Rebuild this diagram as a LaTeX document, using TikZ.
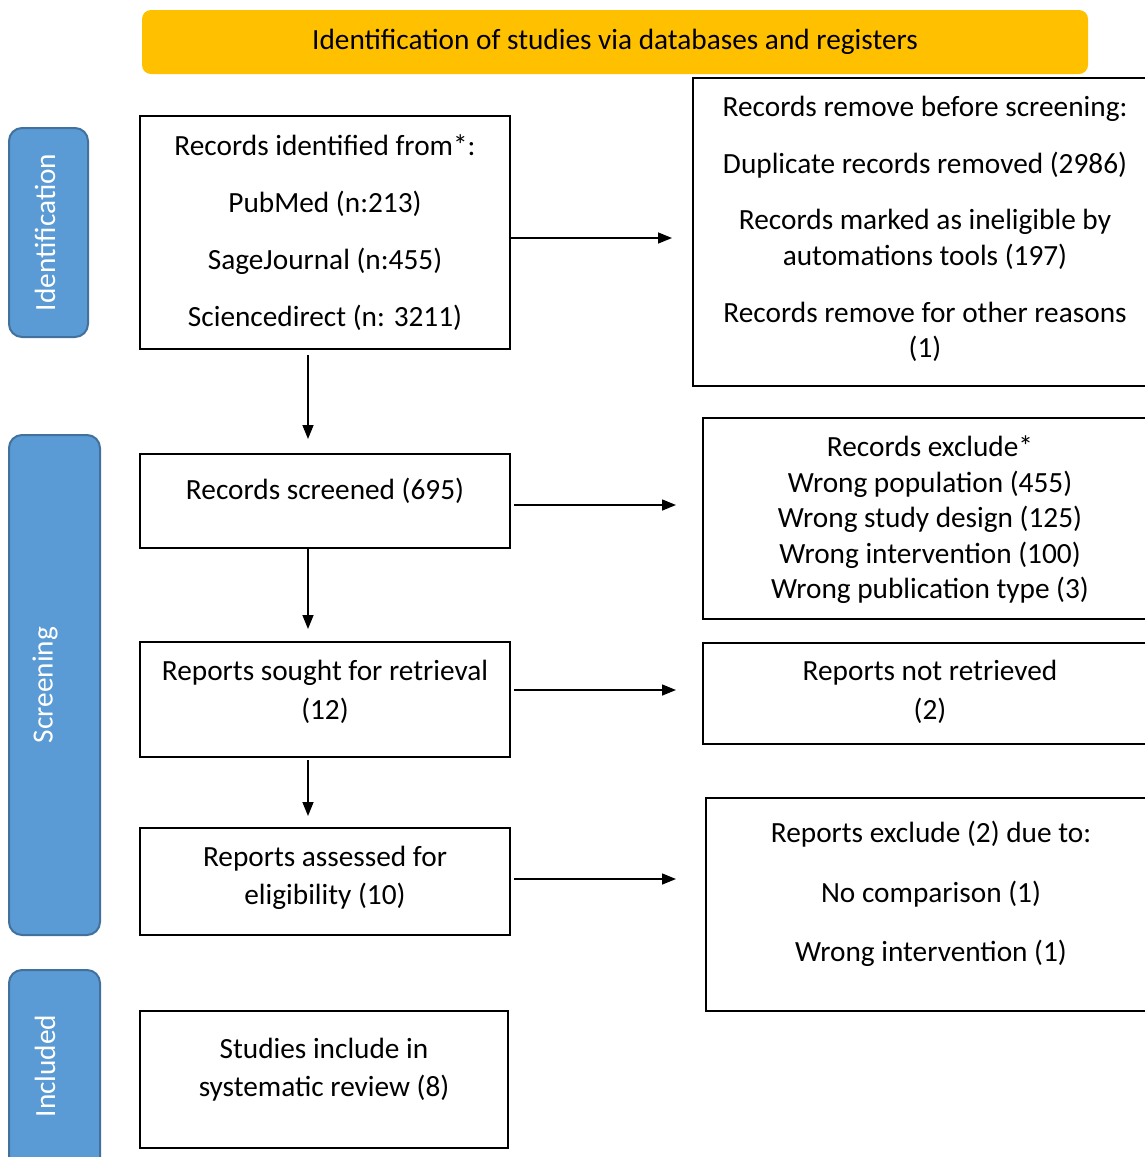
\documentclass[tikz,border=0pt]{standalone}
\usepackage{fontspec}
\setmainfont{Carlito}
\usetikzlibrary{arrows.meta}
\definecolor{banner}{HTML}{FFC000}
\definecolor{tabfill}{HTML}{5B9BD5}
\definecolor{tabedge}{HTML}{41719C}
\tikzset{
  box/.style={draw=black, line width=2pt, rectangle, inner sep=0pt},
  tab/.style={draw=tabedge, fill=tabfill, line width=2pt, rounded corners=13pt, inner sep=0pt},
  tabtext/.style={text=white, rotate=90, font=\fontsize{29.3}{34}\selectfont},
  txt/.style={align=center, font=\fontsize{29.3}{35.5}\selectfont, inner sep=0pt},
  arr/.style={line width=1.5pt, -{Triangle[length=14pt,width=11pt]}}
}
\begin{document}
\begin{tikzpicture}[x=1pt,y=-1pt]
\useasboundingbox (0,0) rectangle (1145,1157);
\clip (0,0) rectangle (1145,1157);
% banner
\node[fill=banner, rounded corners=9pt, minimum width=946pt, minimum height=64pt, inner sep=0pt] (banner) at (615,42) {};
\node[txt] (bannertxt) at (615,42) {Identification of studies via databases and registers};
% tabs
\node[tab, minimum width=79pt, minimum height=209pt] (tabid) at (48.5,232.5) {};
\node[tabtext] (tabidtxt) at (45,232.5) {Identification};
\node[tab, minimum width=91pt, minimum height=500pt] (tabsc) at (54.5,685) {};
\node[tabtext] (tabsctxt) at (45,685) {Screening};
\node[tab, minimum width=91pt, minimum height=230pt] (tabin) at (54.5,1085) {};
\node[tabtext] (tabintxt) at (45,1066) {Included};
% left boxes
\node[box, minimum width=370pt, minimum height=233pt] (b1) at (325,232.5) {};
\node[txt] (b1t) at (325,233) {Records identified from*:\\[21.5pt]PubMed (n:213)\\[21.5pt]SageJournal (n:455)\\[21.5pt]Sciencedirect (n: 3211)};
\node[box, minimum width=370pt, minimum height=94pt] (b2) at (325,501) {};
\node[txt] (b2t) at (325,491) {Records screened (695)};
\node[box, minimum width=370pt, minimum height=115pt] (b3) at (325,699.5) {};
\node[txt] (b3t) at (325,692) {Reports sought for retrieval\\[3.5pt](12)};
\node[box, minimum width=370pt, minimum height=107pt] (b4) at (325,881.5) {};
\node[txt] (b4t) at (325,878) {Reports assessed for\\[2.5pt]eligibility (10)};
\node[box, minimum width=368pt, minimum height=137pt] (b5) at (324,1079.5) {};
\node[txt] (b5t) at (324,1070) {Studies include in\\[2.5pt]systematic review (8)};
% right boxes
\node[box, minimum width=480pt, minimum height=308pt, anchor=north west] (r1) at (692,77) {};
\node[txt] (r1t) at (925,229) {Records remove before screening:\\[21.5pt]Duplicate records removed (2986)\\[21pt]Records marked as ineligible by\\automations tools (197)\\[21.5pt]Records remove for other reasons\\(1)};
\node[box, minimum width=470pt, minimum height=201pt, anchor=north west] (r2) at (702,417) {};
\node[txt] (r2t) at (930,520) {Records exclude*\\Wrong population (455)\\Wrong study design (125)\\Wrong intervention (100)\\Wrong publication type (3)};
\node[box, minimum width=470pt, minimum height=101pt, anchor=north west] (r3) at (702,642) {};
\node[txt] (r3t) at (930,692) {Reports not retrieved\\[3.5pt](2)};
\node[box, minimum width=470pt, minimum height=213pt, anchor=north west] (r4) at (705,797) {};
\node[txt] (r4t) at (931,894) {Reports exclude (2) due to:\\[24pt]No comparison (1)\\[24pt]Wrong intervention (1)};
% helper coordinates for arrow ends
\coordinate (e1) at (672,238);
\coordinate (e2) at (676,505);
\coordinate (e3) at (676,690);
\coordinate (e4) at (676,879);
\coordinate (d1s) at (308,355);
\coordinate (d1e) at (308,439);
\coordinate (d2e) at (308,629);
\coordinate (d3s) at (308,760);
\coordinate (d3e) at (308,816);
% horizontal arrows
\draw[arr] (b1.east |- e1) -- (e1);
\draw[arr] ([xshift=3pt]b2.east |- e2) -- (e2);
\draw[arr] ([xshift=3pt]b3.east |- e3) -- (e3);
\draw[arr] ([xshift=3pt]b4.east |- e4) -- (e4);
% vertical arrows
\draw[arr] (d1s) -- (d1e);
\draw[arr] (b2.south -| d1s) -- (d2e);
\draw[arr] (d3s) -- (d3e);
\end{tikzpicture}
\end{document}
